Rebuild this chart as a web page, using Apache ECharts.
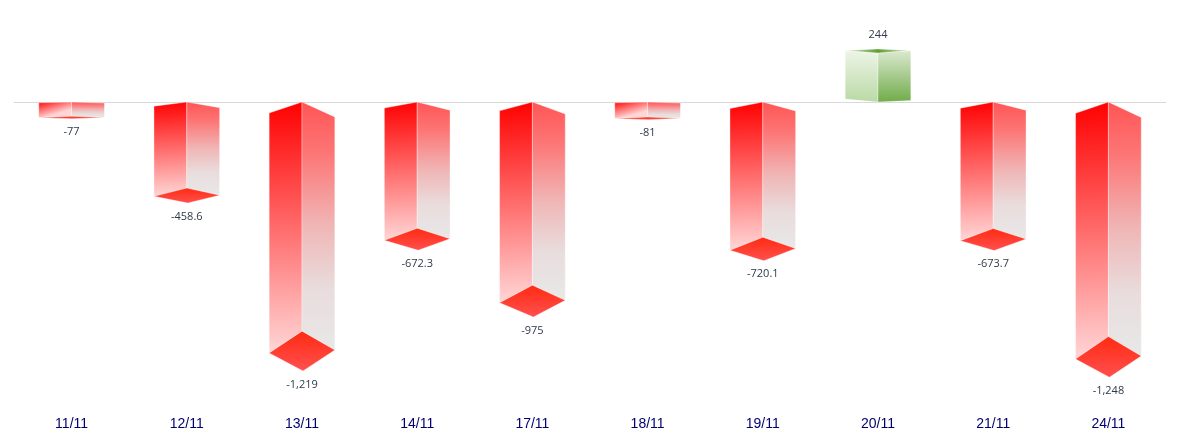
<!DOCTYPE html>
<html>
<head>
<meta charset="UTF-8">
<title>chart</title>
<script src="https://cdn.jsdelivr.net/npm/echarts@6/dist/echarts.min.js"></script>
<style>
html,body{margin:0;padding:0;background:#fff;}
#main{width:1186px;height:440px;}
</style>
</head>
<body>
<div id="main"></div>
<script>
var days = ['11/11','12/11','13/11','14/11','17/11','18/11','19/11','20/11','21/11','24/11'];
var values = [-77,-458.6,-1219,-672.3,-975,-81,-720.1,244,-673.7,-1248];

function grad(c0, c1, tilt){
	return new echarts.graphic.LinearGradient(0, 0, tilt || 0, 1, [
		{offset:0, color:c0},
		{offset:1, color:c1}
	]);
}

function poly(points, fill){
	return {
		type:'polygon',
		shape:{points:points},
		style:{fill:fill, stroke:'rgba(255,255,255,0.35)', lineWidth:1}
	};
}

// fake 3d box, depth grows with the height of the bar
function drawBox(params, api){
	var i = api.value(0);
	var v = api.value(1);
	var base = api.coord([i, 0]);
	var end = api.coord([i, v]);
	var cx = base[0];
	var hw = api.size([1, 0])[0] * 0.285;
	var l = cx - hw, r = cx + hw;
	var zero = base[1] + 0.3;
	var my = end[1];
	var d = Math.abs(my - zero) * 0.08;
	var kids, labelY;
	if(v < 0){
		var sideFill = new echarts.graphic.LinearGradient(0, 0, 0, 1, [
			{offset:0, color:'#ff5555'},
			{offset:0.2, color:'#fd7474'},
			{offset:0.5, color:'#f0b6b6'},
			{offset:0.75, color:'#e9dcdc'},
			{offset:1, color:'#e8e8e8'}
		]);
		kids = [
			poly([[l,zero+d*0.55],[cx,zero],[cx,my-d],[l,my+d*0.1]], grad('#ff0000','#ffd6d6',0.15)),
			poly([[cx,zero],[r,zero+d*0.75],[r,my-d*0.05],[cx,my-d]], sideFill),
			poly([[l,my+d*0.1],[cx,my-d],[r,my-d*0.05],[cx+1,my+d]], grad('#ff2a10','#ff5050'))
		];
		labelY = my + d + 13.5;
	}else{
		var topFill = new echarts.graphic.LinearGradient(0, 0, 1, 0, [
			{offset:0, color:'#d5e7c5'},
			{offset:0.5, color:'#5f9e35'},
			{offset:1, color:'#d5e7c5'}
		]);
		kids = [
			poly([[l,my-1.3],[cx,my+1.2],[cx,zero],[l,zero-3]], grad('#eef5e8','#b9d9a4')),
			poly([[cx,my+1.2],[r,my-1.3],[r,zero-1.5],[cx,zero]], grad('#dce9d0','#6fab48')),
			poly([[l,my-1.3],[cx,my-3],[r,my-1.3],[cx,my+1.2]], topFill)
		];
		labelY = my - 17.5;
	}
	kids.push({
		type:'text',
		style:{
			text:v.toLocaleString('en-US'),
			x:cx,
			y:labelY,
			align:'center',
			verticalAlign:'middle',
			fill:'#2f3a4a',
			font:'11px "Open Sans"'
		}
	});
	return {type:'group', children:kids};
}

var myChart = echarts.init(document.getElementById('main'));
myChart.setOption({
	animation:false,
	grid:{left:14, width:1152, top:20, height:388.5},
	xAxis:[
		{
			type:'category',
			data:days,
			position:'bottom',
			axisLine:{show:false, onZero:false},
			axisTick:{show:false},
			axisLabel:{margin:9, fontSize:14, color:'#000070', fontFamily:'Liberation Sans'}
		},
		{
			type:'category',
			data:days,
			axisLine:{show:true, onZero:true, lineStyle:{color:'#d9d9d9', width:1}},
			axisTick:{show:false},
			axisLabel:{show:false}
		}
	],
	yAxis:{
		type:'value',
		min:-1500,
		max:400,
		show:false,
		splitLine:{show:false}
	},
	series:[{
		type:'custom',
		renderItem:drawBox,
		encode:{x:0, y:1},
		data:values.map(function(v, i){ return [i, v]; })
	}]
});
</script>
</body>
</html>
